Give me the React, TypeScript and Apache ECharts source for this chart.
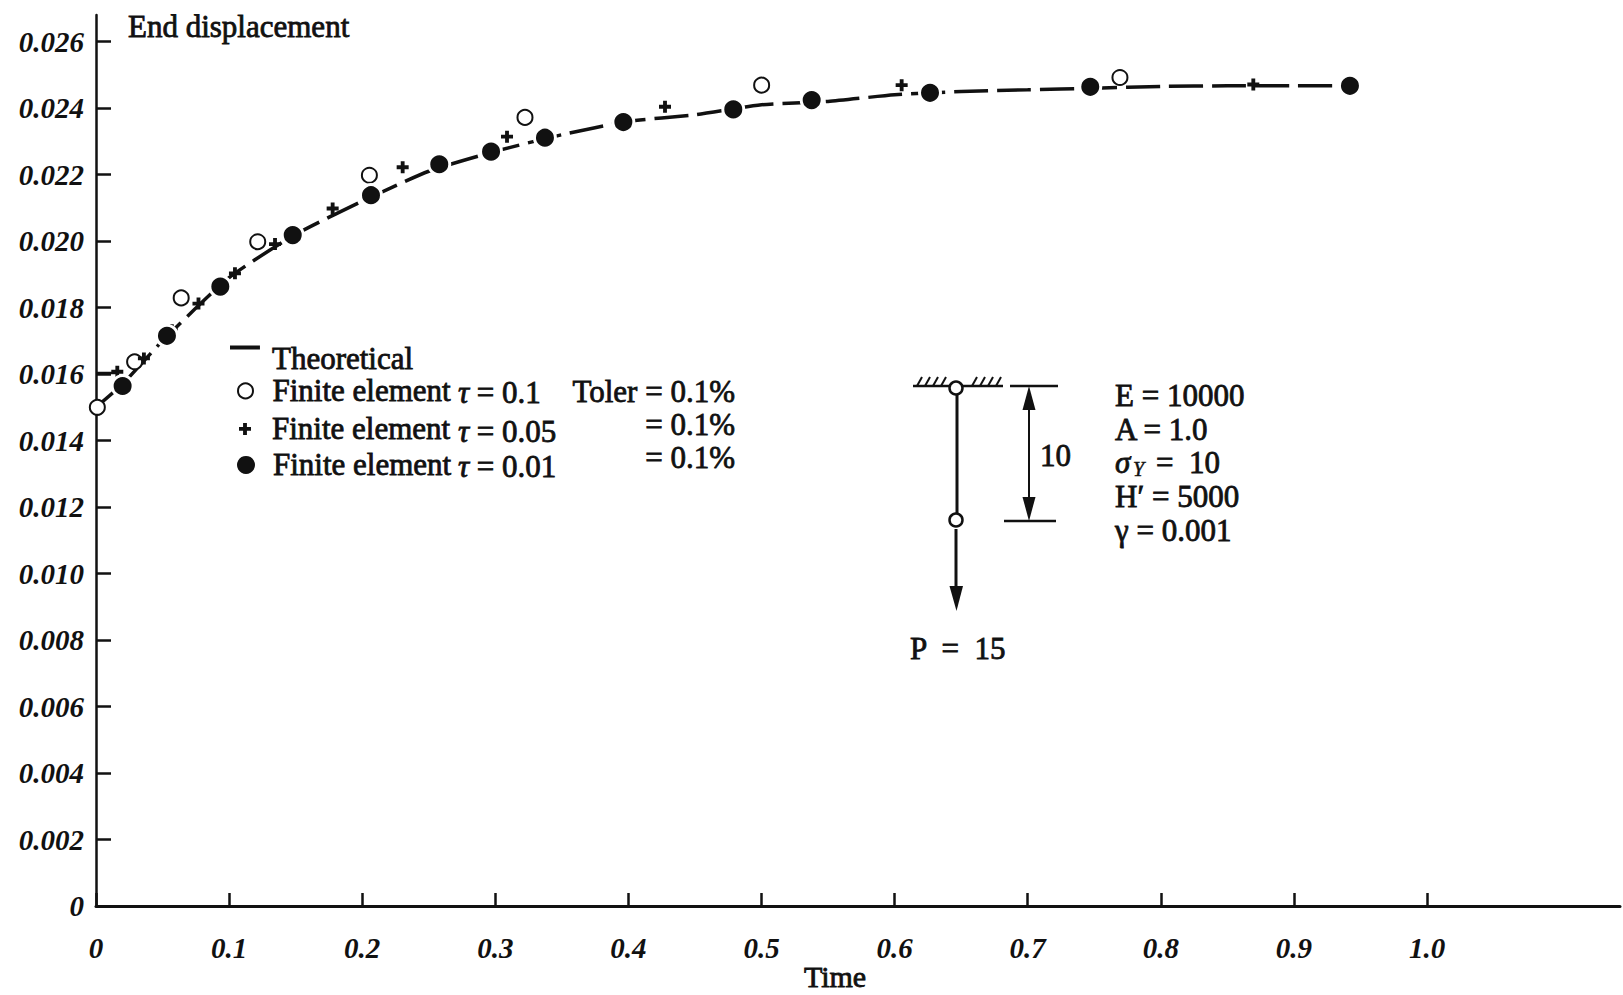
import React, { useEffect, useRef } from "react";
import * as echarts from "echarts";

// axis ticks
const xTicks = [0, 0.1, 0.2, 0.3, 0.4, 0.5, 0.6, 0.7, 0.8, 0.9, 1.0];
const yTicks = [0, 0.002, 0.004, 0.006, 0.008, 0.01, 0.012, 0.014, 0.016, 0.018, 0.02, 0.022, 0.024, 0.026];

// theoretical curve
const theoryTime = [0, 0.02, 0.05, 0.1, 0.15, 0.2, 0.25, 0.3, 0.35, 0.4, 0.45, 0.5, 0.55, 0.6, 0.65, 0.7, 0.75, 0.8, 0.85, 0.9, 0.945];
const theoryDisp = [0.015, 0.0157, 0.017, 0.0189, 0.0202, 0.0212, 0.0221, 0.0227, 0.0232, 0.0236, 0.0238, 0.0241, 0.0242, 0.0244, 0.0245, 0.02455, 0.0246, 0.02465, 0.02467, 0.02467, 0.02467];

// finite element, tau = 0.1
const fe1Time = [0.001, 0.029, 0.064, 0.1215, 0.2054, 0.3223, 0.5001, 0.7693];
const fe1Disp = [0.015, 0.01637, 0.01829, 0.01998, 0.02198, 0.02372, 0.02469, 0.02492];

// finite element, tau = 0.05
const fe2Time = [0.016, 0.036, 0.057, 0.077, 0.1044, 0.1345, 0.1778, 0.2304, 0.3088, 0.4275, 0.6053, 0.8695];
const fe2Disp = [0.01607, 0.01647, 0.01732, 0.01812, 0.01903, 0.01991, 0.02098, 0.02222, 0.02314, 0.02404, 0.02469, 0.02471];

// finite element, tau = 0.01
const fe3Time = [0.02, 0.0533, 0.0934, 0.1478, 0.2066, 0.2579, 0.2968, 0.3373, 0.3962, 0.4788, 0.5377, 0.6266, 0.747, 0.9421];
const fe3Disp = [0.01564, 0.01715, 0.01863, 0.02018, 0.02138, 0.02231, 0.02269, 0.02311, 0.02358, 0.02396, 0.02424, 0.02446, 0.02464, 0.02467];

const ink = "#111";
const serif = "'Liberation Serif', 'DejaVu Serif', serif";
const plusPath = "path://M3.4,0H6.6V3.4H10V6.6H6.6V10H3.4V6.6H0V3.4H3.4Z";
const dashIcon = "path://M0,0H30V4H0Z M0,27H0.05V27.05H0Z";

const zip = (xs: number[], ys: number[]) => xs.map((x, i) => [x, ys[i]]);

const textBase = {
  fontFamily: serif,
  fontSize: 31,
  fill: ink,
  stroke: ink,
  lineWidth: 0.8,
  verticalAlign: "middle",
  align: "left",
};

const label = (x: number, y: number, style: any) => ({
  type: "text",
  x,
  y,
  style: { ...textBase, ...style },
});

const it = { fontFamily: serif, fontSize: 31, fontStyle: "italic" };

const seg = (x1: number, y1: number, x2: number, y2: number, w = 2.5) => ({
  type: "line",
  shape: { x1, y1, x2, y2 },
  style: { stroke: ink, lineWidth: w },
});

const hatchX = [917, 925, 933, 941, 972, 980, 988, 996];

const legendText = {
  fontFamily: serif,
  fontSize: 31,
  color: ink,
  textBorderColor: ink,
  textBorderWidth: 0.8,
  padding: [0, 0, 0, 7],
};

const legendFmt = (name: string) => (name.startsWith("Finite") ? "Finite element" : name);

const App = () => {
  const chartRef = useRef<HTMLDivElement>(null);

  useEffect(() => {
    document.body.style.margin = "0";
    if (!chartRef.current) return;
    const chart = echarts.init(chartRef.current, null, { renderer: "svg" });

    const option: any = {
      animation: false,
      backgroundColor: "#fff",
      grid: { left: 96, right: 3, top: 15, bottom: 89, outerBoundsMode: "none" },
      xAxis: {
        type: "value",
        min: 0,
        max: 1.145,
        name: "Time",
        nameLocation: "middle",
        nameGap: 55,
        nameMoveOverlap: false,
        nameTextStyle: {
          fontFamily: serif,
          fontSize: 30,
          lineHeight: 30,
          color: ink,
          textBorderColor: ink,
          textBorderWidth: 0.8,
          padding: [0, 46, 0, 0],
        },
        axisLine: { lineStyle: { color: ink, width: 3 } },
        axisTick: { inside: true, length: 13, lineStyle: { color: ink, width: 2.5 }, customValues: xTicks },
        axisLabel: {
          customValues: xTicks,
          margin: 27,
          fontFamily: serif,
          fontSize: 29,
          lineHeight: 29,
          fontStyle: "italic",
          fontWeight: "bold",
          color: ink,
          formatter: (v: number) => (v === 0 ? "0" : v.toFixed(1)),
        },
        splitLine: { show: false },
      },
      yAxis: {
        type: "value",
        min: 0,
        max: 0.0268,
        axisLine: { show: true, lineStyle: { color: ink, width: 2.5 } },
        axisTick: { show: true, inside: true, length: 15, lineStyle: { color: ink, width: 2.5 }, customValues: yTicks },
        axisLabel: {
          customValues: yTicks,
          margin: 12,
          fontFamily: serif,
          fontSize: 29,
          fontStyle: "italic",
          fontWeight: "bold",
          color: ink,
          formatter: (v: number) => (v === 0 ? "0" : v.toFixed(3)),
        },
        splitLine: { show: false },
      },
      legend: [
        {
          left: 230, top: 343, padding: 0, itemWidth: 30, itemHeight: 27,
          data: [{ name: "Theoretical", icon: dashIcon }],
          textStyle: legendText, formatter: legendFmt,
        },
        {
          left: 237, top: 375, padding: 0, itemWidth: 30, itemHeight: 15,
          data: ["Finite element τ = 0.1"],
          textStyle: legendText, formatter: legendFmt,
          itemStyle: { borderWidth: 2.5 },
        },
        {
          left: 239, top: 413, padding: 0, itemWidth: 30, itemHeight: 12,
          data: ["Finite element τ = 0.05"],
          textStyle: legendText, formatter: legendFmt,
        },
        {
          left: 237, top: 449, padding: 0, itemWidth: 30, itemHeight: 18,
          data: ["Finite element τ = 0.01"],
          textStyle: legendText, formatter: legendFmt,
          itemStyle: { borderWidth: 0, opacity: 1 },
        },
      ],
      series: [
        {
          name: "Theoretical",
          type: "line",
          data: zip(theoryTime, theoryDisp),
          symbol: "none",
          smooth: 0.2,
          color: ink,
          lineStyle: { color: ink, width: 3.5, type: [34, 9] },
          z: 2,
        },
        {
          name: "Finite element τ = 0.1",
          type: "scatter",
          data: zip(fe1Time, fe1Disp),
          symbol: "emptyCircle",
          symbolSize: 15,
          color: ink,
          itemStyle: { color: ink, borderWidth: 2.5, opacity: 1 },
          z: 3,
        },
        {
          name: "Finite element τ = 0.05",
          type: "scatter",
          data: zip(fe2Time, fe2Disp),
          symbol: plusPath,
          symbolSize: 12,
          color: ink,
          itemStyle: { color: ink, opacity: 1 },
          z: 3,
        },
        {
          name: "Finite element τ = 0.01",
          type: "scatter",
          data: zip(fe3Time, fe3Disp),
          symbol: "circle",
          symbolSize: 21,
          color: ink,
          itemStyle: { color: ink, borderColor: "#fff", borderWidth: 3, opacity: 1 },
          z: 4,
        },
      ],
      graphic: [
        label(128, 26, { text: "End displacement" }),
        // longer tick at 0.016 in the original drawing
        seg(96, 373, 117, 373, 2.5),
        // legend side notes
        label(458, 392, { text: "{i|τ} = 0.1", rich: { i: it } }),
        label(735, 391, { text: "Toler = 0.1%", align: "right" }),
        label(458, 431, { text: "{i|τ} = 0.05", rich: { i: it } }),
        label(735, 424, { text: "= 0.1%", align: "right" }),
        label(458, 466, { text: "{i|τ} = 0.01", rich: { i: it } }),
        label(735, 457, { text: "= 0.1%", align: "right" }),
        // bar sketch
        seg(913, 386, 1003, 386),
        ...hatchX.map((x) => seg(x, 386, x + 5, 377, 2)),
        seg(957, 395, 957, 513, 3),
        { type: "circle", shape: { cx: 956, cy: 388, r: 6.5 }, style: { fill: "#fff", stroke: ink, lineWidth: 2.5 } },
        { type: "circle", shape: { cx: 956, cy: 520, r: 6.5 }, style: { fill: "#fff", stroke: ink, lineWidth: 2.5 } },
        seg(956, 529, 956, 590, 3),
        { type: "polygon", shape: { points: [[949.5, 586], [963, 586], [956.5, 611]] }, style: { fill: ink } },
        seg(1010, 386, 1058, 386),
        seg(1004, 521, 1056, 521),
        seg(1029, 400, 1029, 508, 2),
        { type: "polygon", shape: { points: [[1029, 386], [1022.5, 410], [1035.5, 410]] }, style: { fill: ink } },
        { type: "polygon", shape: { points: [[1029, 521], [1022.5, 497], [1035.5, 497]] }, style: { fill: ink } },
        label(1040, 455, { text: "10" }),
        label(910, 648, { text: "P  =  15" }),
        // material data
        label(1115, 395, { text: "E = 10000" }),
        label(1115, 429, { text: "A = 1.0" }),
        label(1115, 462, { text: "σ", fontStyle: "italic" }),
        label(1133, 469, { text: "Y", fontStyle: "italic", fontSize: 20, lineWidth: 0.5 }),
        label(1156, 462, { text: "=  10" }),
        label(1115, 496, { text: "H′ = 5000" }),
        label(1115, 530, { text: "γ = 0.001" }),
      ],
    };

    chart.setOption(option);

    const handleResize = () => chart.resize();
    window.addEventListener("resize", handleResize);
    return () => {
      window.removeEventListener("resize", handleResize);
      chart.dispose();
    };
  }, []);

  return <div ref={chartRef} style={{ width: "1623px", height: "995px" }} />;
};

export default App;
